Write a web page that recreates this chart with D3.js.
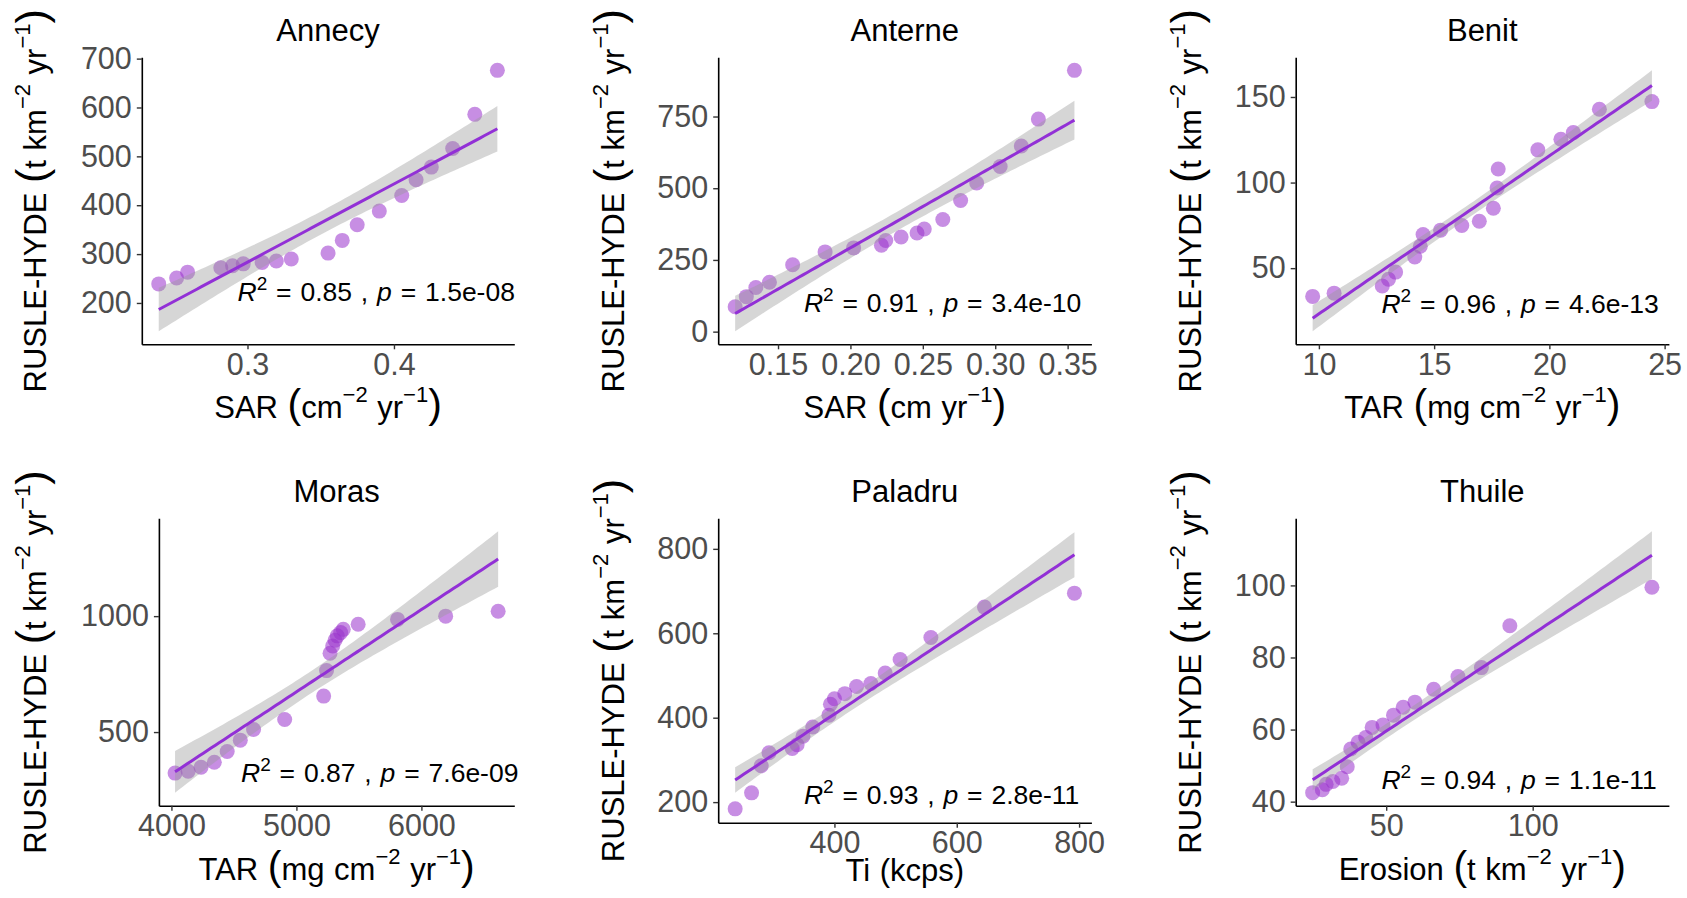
<!DOCTYPE html>
<html>
<head>
<meta charset="utf-8">
<script src="https://cdn.jsdelivr.net/npm/d3@7/dist/d3.min.js"></script>
<style>
  body { margin: 0; background: #fff; }
  svg { display: block; font-family: "Liberation Sans", Arial, sans-serif; }
</style>
</head>
<body>
<script>
// values
var lakes = ["Annecy", "Anterne", "Benit", "Moras", "Paladru", "Thuile"];

var annecyX = [0.2394,0.2516,0.2591,0.2818,0.2898,0.2971,0.3100,0.3197,0.3299,0.3550,0.3647,0.3749,0.3900,0.4053,0.4151,0.4255,0.4401,0.4552,0.4706];
var annecyY = [239,251,263,272,276,280,283,286,290,302,328,360,388,420,452,478,516,586,676];

var anterneX = [0.1204,0.1281,0.1347,0.1441,0.1601,0.1825,0.2022,0.2214,0.2244,0.2350,0.2460,0.2510,0.2638,0.2761,0.2872,0.3034,0.3180,0.3298,0.3547];
var anterneY = [87,122,154,172,233,278,292,301,318,330,344,358,391,457,518,576,647,741,911];

var benitX = [9.73,10.66,12.75,13.02,13.33,14.16,14.40,14.52,15.28,16.20,16.96,17.57,17.73,17.78,19.50,20.50,21.04,22.17,24.45];
var benitY = [33.5,35.4,39.6,43.5,47.7,56.5,62.8,69.6,72.2,74.9,77.4,85.0,96.8,107.9,119.1,125.3,129.2,142.8,147.3];

var morasX = [4029,4134,4237,4343,4446,4551,4657,4906,5218,5241,5269,5290,5309,5327,5354,5375,5494,5809,6194,6614];
var morasY = [323,331,348,370,416,465,511,554,655,765,840,871,896,915,929,943,965,986,1000,1021];

var paladruX = [237.7,264.5,280.3,293.0,331.0,339.0,348.6,364.5,391.0,393.5,400.0,417.0,436.2,459.6,483.0,507.4,557.7,645.3,792.4];
var paladruY = [184,222,286,317,327,336,356,378,406,432,445,457,474,481,506,538,590,662,695];

var thuileX = [24.9,28.2,29.5,31.8,34.8,36.7,37.9,40.4,43.0,45.2,48.9,52.5,55.8,59.8,66.2,74.5,82.5,92.2,140.7];
var thuileY = [42.5,43.3,44.8,45.6,46.5,49.7,54.6,56.5,57.8,60.6,61.3,64.0,66.2,67.6,71.2,74.7,77.2,88.8,99.5];

var r2Text = ["0.85", "0.91", "0.96", "0.87", "0.93", "0.94"];
var pText = ["1.5e-08", "3.4e-10", "4.6e-13", "7.6e-09", "2.8e-11", "1.1e-11"];

var xTickValues = [[0.3,0.4], [0.15,0.20,0.25,0.30,0.35], [10,15,20,25], [4000,5000,6000], [400,600,800], [50,100]];
var yTickValues = [[200,300,400,500,600,700], [0,250,500,750], [50,100,150], [500,1000], [200,400,600,800], [40,60,80,100]];

var xTitles = [
  [["SAR "],["(","big"],["cm"],["\u22122","sup"],[" yr"],["\u22121","sup"],[")","big"]],
  [["SAR "],["(","big"],["cm yr"],["\u22121","sup"],[")","big"]],
  [["TAR "],["(","big"],["mg cm"],["\u22122","sup"],[" yr"],["\u22121","sup"],[")","big"]],
  [["TAR "],["(","big"],["mg cm"],["\u22122","sup"],[" yr"],["\u22121","sup"],[")","big"]],
  [["Ti (kcps)"]],
  [["Erosion "],["(","big"],["t km"],["\u22122","sup"],[" yr"],["\u22121","sup"],[")","big"]]
];
var yTitle = [["RUSLE-HYDE "],["(","big"],["t km"],["\u22122","sup"],[" yr"],["\u22121","sup"],[")","big"]];

var seriesX = [annecyX, anterneX, benitX, morasX, paladruX, thuileX];
var seriesY = [annecyY, anterneY, benitY, morasY, paladruY, thuileY];

// panel layout (pixels)
var panels = [
  {left:141.8, right:514.3, top:57.3, bottom:344.3, yTitleX:46.4, statX:237.5, statY:301, xTitleY:418.3, fmt:".1f"},
  {left:718.2, right:1091.4, top:57.3, bottom:344.3, yTitleX:624.3, statX:803.9, statY:312.3, xTitleY:418.3, fmt:".2f"},
  {left:1295.7, right:1668.9, top:57.3, bottom:344.3, yTitleX:1201.4, statX:1381.4, statY:313.3, xTitleY:418.3, fmt:"d"},
  {left:158.9, right:514.3, top:518.3, bottom:805.7, yTitleX:46.4, statX:241, statY:781.7, xTitleY:880, fmt:"d"},
  {left:718.2, right:1091.4, top:518.3, bottom:822.7, yTitleX:624.3, statX:803.9, statY:804.3, xTitleY:881, fmt:"d"},
  {left:1295.7, right:1668.9, top:518.3, bottom:805.7, yTitleX:1201.4, statX:1381.4, statY:789, xTitleY:880, fmt:"d"}
];

var purple = "#9932CC";
var lineColor = "#9230d6";

var svg = d3.select("body").append("svg")
  .attr("width", 1687)
  .attr("height", 898);

function tQuantile(df) {
  var z = 1.959964;
  return z + (Math.pow(z,3) + z) / (4 * df)
    + (5 * Math.pow(z,5) + 16 * Math.pow(z,3) + 3 * z) / (96 * df * df)
    + (3 * Math.pow(z,7) + 19 * Math.pow(z,5) + 17 * Math.pow(z,3) - 15 * z) / (384 * df * df * df);
}

function linearFit(xs, ys) {
  var n = xs.length, mx = d3.mean(xs), my = d3.mean(ys);
  var sxx = 0, sxy = 0;
  xs.forEach(function(x, i) { sxx += (x - mx) * (x - mx); sxy += (x - mx) * (ys[i] - my); });
  var b = sxy / sxx, a = my - b * mx;
  var sse = 0;
  xs.forEach(function(x, i) { var r = ys[i] - (a + b * x); sse += r * r; });
  var s = Math.sqrt(sse / (n - 2)), t = tQuantile(n - 2);
  var x0 = d3.min(xs), x1 = d3.max(xs);
  return d3.range(81).map(function(i) {
    var x = x0 + (x1 - x0) * i / 80;
    var yh = a + b * x;
    var se = s * Math.sqrt(1 / n + (x - mx) * (x - mx) / sxx);
    return {x: x, y: yh, lo: yh - t * se, hi: yh + t * se};
  });
}

function expand(ext) {
  var d = ext[1] - ext[0];
  return [ext[0] - 0.05 * d, ext[1] + 0.05 * d];
}

function addRich(parent, segs, o) {
  var t = parent.append("text")
    .attr("text-anchor", o.anchor)
    .attr("font-size", o.size)
    .attr("fill", "#000")
    .attr("xml:space", "preserve")
    .style("white-space", "pre")
    .style("word-spacing", (o.wordSpacing || 0) + "px");
  var shift = 0;
  segs.forEach(function(s) {
    var kind = s[1] || "";
    var want = kind === "sup" ? -o.supDy : 0;
    var ts = t.append("tspan").text(s[0]).attr("dy", want - shift);
    shift = want;
    if (kind === "sup") ts.attr("font-size", o.supSize);
    if (kind === "big") ts.attr("font-size", o.bigSize);
    if (kind === "it") ts.attr("font-style", "italic");
  });
  return t;
}

function drawPanel(i) {
  var L = panels[i];
  var xs = seriesX[i], ys = seriesY[i];
  var pts = xs.map(function(x, j) { return {x: x, y: ys[j]}; });
  var fit = linearFit(xs, ys);

  var yLo = Math.min(d3.min(ys), d3.min(fit, function(d) { return d.lo; }));
  var yHi = Math.max(d3.max(ys), d3.max(fit, function(d) { return d.hi; }));

  var x = d3.scaleLinear().domain(expand(d3.extent(xs))).range([L.left, L.right]);
  var y = d3.scaleLinear().domain(expand([yLo, yHi])).range([L.bottom, L.top]);

  var g = svg.append("g").attr("class", "panel");

  // points
  g.append("g").selectAll("circle")
    .data(pts)
    .enter().append("circle")
      .attr("cx", function(d) { return x(d.x); })
      .attr("cy", function(d) { return y(d.y); })
      .attr("r", 7.5)
      .attr("fill", purple)
      .attr("fill-opacity", 0.55);

  // confidence band + fitted line
  g.append("path")
    .datum(fit)
    .attr("fill", "#999999")
    .attr("fill-opacity", 0.4)
    .attr("d", d3.area()
      .x(function(d) { return x(d.x); })
      .y0(function(d) { return y(d.lo); })
      .y1(function(d) { return y(d.hi); }));

  g.append("path")
    .datum(fit)
    .attr("fill", "none")
    .attr("stroke", lineColor)
    .attr("stroke-width", 3)
    .attr("d", d3.line()
      .x(function(d) { return x(d.x); })
      .y(function(d) { return y(d.y); }));

  // axes
  var xAxis = d3.axisBottom(x).tickValues(xTickValues[i]).tickFormat(d3.format(L.fmt))
    .tickSize(5).tickSizeOuter(0).tickPadding(5);
  var yAxis = d3.axisLeft(y).tickValues(yTickValues[i]).tickFormat(d3.format("d"))
    .tickSize(5).tickSizeOuter(0).tickPadding(5);

  var gx = g.append("g").attr("transform", "translate(0," + L.bottom + ")").call(xAxis);
  var gy = g.append("g").attr("transform", "translate(" + L.left + ",0)").call(yAxis);

  [gx, gy].forEach(function(ax) {
    ax.select(".domain").attr("stroke", "#000").attr("stroke-width", 1.6);
    ax.selectAll(".tick line").attr("stroke", "#333").attr("stroke-width", 1.4);
    ax.selectAll(".tick text")
      .attr("fill", "#4d4d4d")
      .attr("font-size", 30.5)
      .attr("font-family", "Liberation Sans, Arial, sans-serif");
  });
  gx.selectAll(".tick text").attr("dy", "0.68em");

  var cx = (L.left + L.right) / 2;

  // panel title
  g.append("text")
    .attr("x", cx)
    .attr("y", L.top - 16.6)
    .attr("text-anchor", "middle")
    .attr("font-size", 31)
    .text(lakes[i]);

  // x title
  addRich(g.append("g").attr("transform", "translate(" + cx + "," + L.xTitleY + ")"),
    xTitles[i], {anchor: "middle", size: 31, supSize: 22, supDy: 16, bigSize: 41, wordSpacing: 1});

  // y title
  addRich(g.append("g").attr("transform", "translate(" + L.yTitleX + "," + ((L.top + L.bottom) / 2) + ") rotate(-90)"),
    yTitle, {anchor: "middle", size: 31, supSize: 22, supDy: 16, bigSize: 43, wordSpacing: 1});

  // R2 / p annotation
  var stat = [["R","it"],["2","sup"],[" = " + r2Text[i] + " , "],["p","it"],[" = " + pText[i]]];
  addRich(g.append("g").attr("transform", "translate(" + L.statX + "," + L.statY + ")"),
    stat, {anchor: "start", size: 26.5, supSize: 19, supDy: 11, bigSize: 26.5, wordSpacing: 1.5});
}

d3.range(6).forEach(drawPanel);
</script>
</body>
</html>
